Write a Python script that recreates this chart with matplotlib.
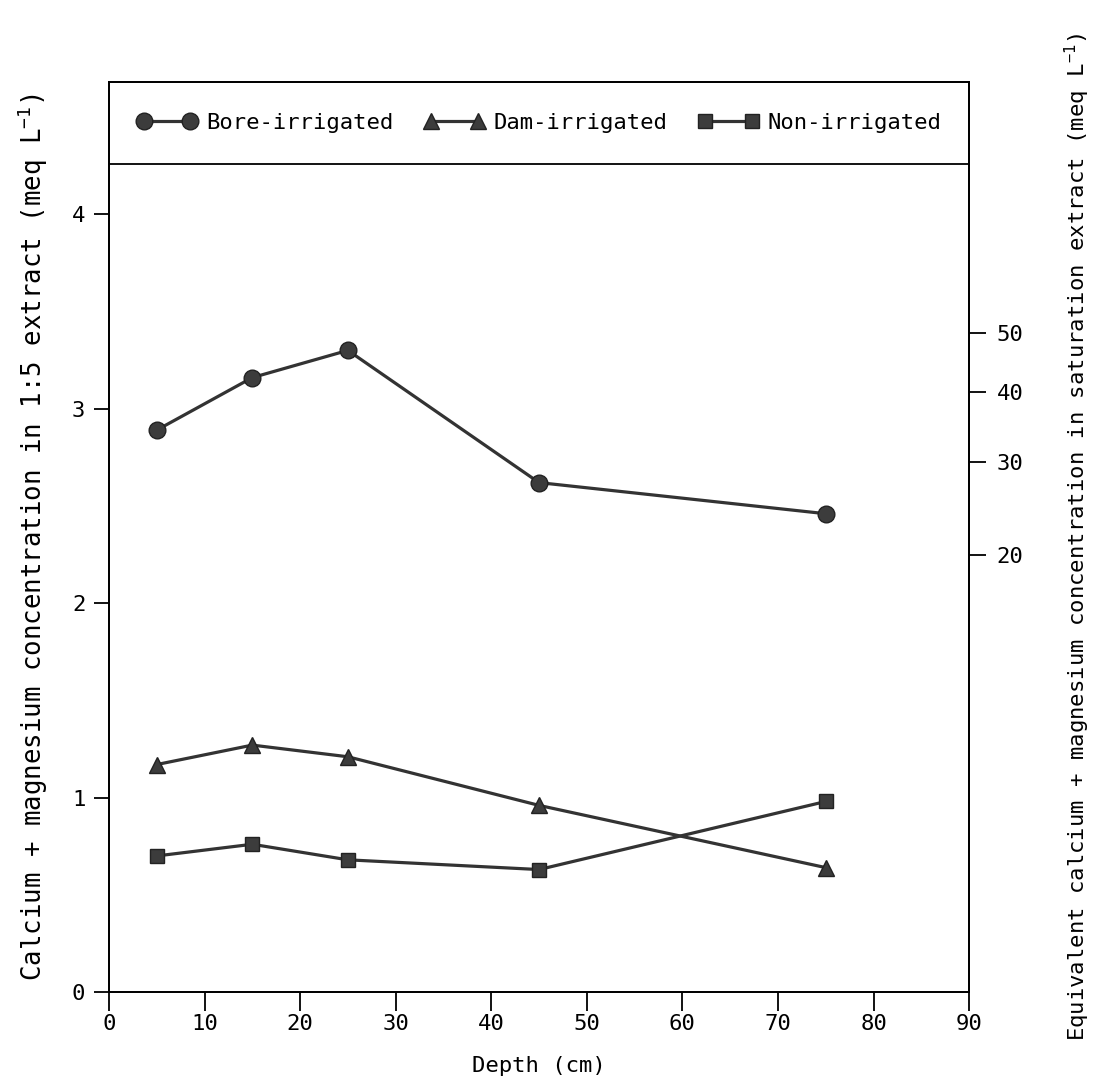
import matplotlib
matplotlib.use("Agg")
import matplotlib.pyplot as plt

plt.rcParams["font.family"] = ["DejaVu Sans Mono", "DejaVu Sans"]
plt.rcParams["mathtext.default"] = "regular"

# Data
depth = [5, 15, 25, 45, 75]
bore = [2.89, 3.16, 3.30, 2.62, 2.46]
dam = [1.17, 1.27, 1.21, 0.96, 0.64]
non = [0.70, 0.76, 0.68, 0.63, 0.98]

x_ticks = [0, 10, 20, 30, 40, 50, 60, 70, 80, 90]
y_ticks = [0, 1, 2, 3, 4]
# right-axis labels and their positions on the left (1:5) scale
sat_labels = ["20", "30", "40", "50"]
sat_pos = [2.25, 2.725, 3.085, 3.39]

ink = "#333333"
fs = 16

fig = plt.figure(figsize=(10.95, 10.91), dpi=100)
ax = fig.add_axes([0.0995, 0.0907, 0.7855, 0.8341])

ax.plot(depth, bore, color=ink, lw=2.3, marker="o", ms=12, mfc="#3c3c3c",
        mec="#222222", label="Bore-irrigated")
ax.plot(depth, dam, color=ink, lw=2.3, marker="^", ms=11, mfc="#3c3c3c",
        mec="#222222", label="Dam-irrigated")
ax.plot(depth, non, color=ink, lw=2.3, marker="s", ms=10, mfc="#3c3c3c",
        mec="#222222", label="Non-irrigated")

ax.set_xlim(0, 90)
ax.set_ylim(0, 4.68)
ax.axhline(4.26, color="black", lw=1.3)

ax.set_xticks(x_ticks)
ax.set_yticks(y_ticks)
ax.tick_params(axis="x", direction="out", length=14, width=1.3, labelsize=fs, pad=2)
ax.tick_params(axis="y", direction="out", length=11, width=1.3, labelsize=fs, pad=6)
for sp in ax.spines.values():
    sp.set_linewidth(1.3)

ax.set_xlabel("Depth (cm)", fontsize=fs, labelpad=16)
ax.set_ylabel("Calcium + magnesium concentration in 1:5 extract (meq L$^{-1}$)",
              fontsize=18.5, labelpad=16)

# right-hand equivalent scale
ax2 = ax.twinx()
ax2.set_ylim(ax.get_ylim())
ax2.set_yticks(sat_pos)
ax2.set_yticklabels(sat_labels)
ax2.tick_params(axis="y", direction="out", length=12, width=1.3, labelsize=fs, pad=8)
ax2.set_ylabel("Equivalent calcium + magnesium concentration in saturation extract (meq L$^{-1}$)",
               fontsize=fs, labelpad=28)
for sp in ax2.spines.values():
    sp.set_linewidth(1.3)

ax.legend(loc="center", bbox_to_anchor=(0.5, 0.955), ncol=3, frameon=False,
          numpoints=2, handlelength=2.7, handletextpad=0.4, columnspacing=1.4,
          fontsize=fs)

fig.savefig("out.png", dpi=100, facecolor="white")
